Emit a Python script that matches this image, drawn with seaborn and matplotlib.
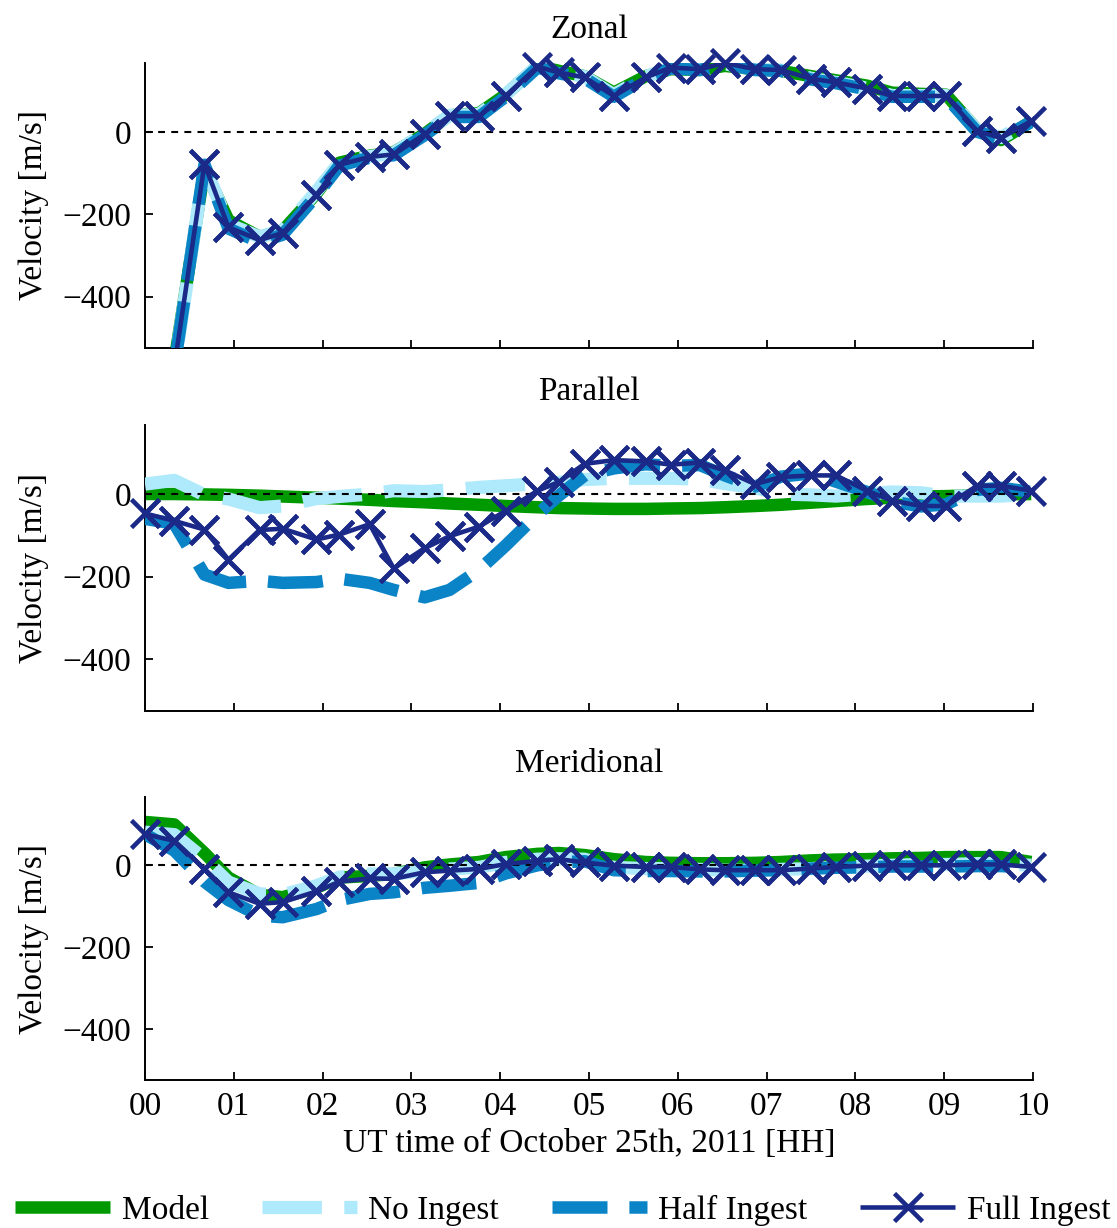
import numpy as np
import pandas as pd
import matplotlib
matplotlib.use("Agg")
import matplotlib.pyplot as plt
import seaborn as sns

# ---------------- data ----------------
hours = [0.00, 0.33, 0.67, 0.94, 1.29, 1.55, 1.93, 2.19, 2.53, 2.80, 3.15,
         3.43, 3.76, 4.06, 4.42, 4.66, 4.95, 5.28, 5.64, 5.92, 6.25, 6.53,
         6.87, 7.16, 7.50, 7.78, 8.13, 8.41, 8.74, 9.02, 9.37, 9.64, 9.98]

zonal_model = [-1100, -560, -90, -215, -255, -240, -150, -75, -58, -50, -5,
               40, 45, 90, 160, 148, 135, 95, 135, 152, 150, 160,
               152, 148, 135, 125, 112, 95, 92, 90, 5, -20, 25]
zonal_none = [-1100, -575, -82, -225, -255, -240, -145, -75, -60, -52, -3,
              40, 42, 90, 160, 146, 134, 90, 134, 155, 152, 165,
              152, 150, 130, 120, 106, 88, 88, 88, 4, -14, 27]
zonal_half = [-1100, -572, -80, -235, -268, -250, -155, -82, -63, -57, -8,
              36, 36, 85, 156, 142, 130, 85, 130, 154, 150, 165,
              150, 148, 127, 118, 103, 85, 85, 85, 0, -17, 24]
zonal_full = [-1100, -570, -78, -232, -263, -246, -153, -80, -61, -55, -6,
              38, 38, 87, 158, 144, 132, 87, 132, 156, 152, 167,
              152, 150, 129, 120, 105, 87, 87, 87, 2, -15, 26]

parallel_model = [0, 0, -1, -2, -4, -6, -9, -11, -14, -17, -20,
                  -23, -26, -29, -32, -34, -35, -36, -36, -35, -34, -32,
                  -29, -26, -21, -17, -12, -9, -6, -5, -3, -1, 0]
parallel_none = [24, 33, -2, -12, -33, -29, -11, -6, 0, 8, 6,
                 10, 16, 20, 25, 28, 35, 38, 38, 38, 36, 25,
                 15, 0, -2, -5, 0, 5, 3, -5, -5, -5, 0]
parallel_half = [-60, -72, -195, -215, -210, -215, -213, -205, -215, -232, -250,
                 -232, -184, -125, -49, -4, 45, 62, 72, 68, 70, 45,
                 18, 42, 50, 30, 5, -18, -30, -25, 10, 15, 5]
parallel_full = [-47, -65, -86, -159, -87, -84, -110, -98, -73, -180, -131,
                 -102, -79, -41, 8, 29, 73, 82, 79, 71, 76, 57,
                 24, 41, 45, 45, 8, -16, -29, -29, 20, 20, 8]

meridional_model = [106, 100, 30, -30, -72, -78, -55, -30, -26, -21, -5,
                    2, 8, 20, 28, 30, 25, 15, 8, 6, 5, 5,
                    6, 8, 12, 14, 15, 17, 18, 20, 20, 20, 8]
meridional_none = [81, 75, 15, -41, -70, -72, -50, -29, -21, -21, -13,
                   -9, -5, 7, 15, 16, 15, -5, -8, -8, -10, -12,
                   -12, -10, -8, -5, -2, 0, 2, 2, 4, 4, 0]
meridional_half = [76, 36, -40, -85, -123, -127, -107, -85, -70, -66, -55,
                   -50, -43, -20, 0, 7, 10, -12, -14, -14, -15, -15,
                   -13, -12, -8, -6, -5, -3, -3, -3, -2, -2, -5]
meridional_full = [76, 60, -9, -66, -94, -90, -64, -40, -32, -33, -17,
                   -13, -9, 3, 11, 15, 7, -1, -4, -4, -10, -12,
                   -12, -12, -8, -4, -1, 0, 0, 0, 2, 2, -4]

series_names = ["Model", "No Ingest", "Half Ingest", "Full Ingest"]
panel_titles = ["Zonal", "Parallel", "Meridional"]
panel_data = [
    [zonal_model, zonal_none, zonal_half, zonal_full],
    [parallel_model, parallel_none, parallel_half, parallel_full],
    [meridional_model, meridional_none, meridional_half, meridional_full],
]
x_ticks = [0, 1, 2, 3, 4, 5, 6, 7, 8, 9, 10]
x_tick_labels = ["00", "01", "02", "03", "04", "05", "06", "07", "08", "09", "10"]
y_ticks = [-400, -200, 0]
y_label = "Velocity [m/s]"
x_label = "UT time of October 25th, 2011 [HH]"

# ---------------- styling ----------------
sns.set_theme(style="ticks")
plt.rcParams["font.family"] = ["Liberation Serif", "DejaVu Serif"]
plt.rcParams["axes.unicode_minus"] = True
for key in ("text.color", "axes.labelcolor", "xtick.color", "ytick.color",
            "xtick.labelcolor", "ytick.labelcolor"):
    plt.rcParams[key] = "black"
plt.rcParams["lines.solid_capstyle"] = "butt"
plt.rcParams["lines.dash_capstyle"] = "butt"

FS = 24
FULL_COLOR = "#1b2a88"
styles = [
    dict(color="#009a00", linewidth=9.0, linestyle="-", zorder=2),
    dict(color="#aeeafb", linewidth=9.5, linestyle=(0, (4.5, 1.7)), zorder=3),
    dict(color="#0a84c6", linewidth=9.0, linestyle=(0, (4.4, 1.75)), zorder=4),
    dict(color=FULL_COLOR, linewidth=3.3, linestyle="-", marker="x",
         markersize=20, markeredgewidth=3.3, markeredgecolor=FULL_COLOR, zorder=6),
]

fig = plt.figure(figsize=(11.17, 12.28), dpi=100)
W, H = 1117.0, 1228.0
left_px, right_px = 145, 1033
panel_px = [(63, 348), (425, 711), (797, 1080)]
ylim = (-525, 167)

axes = []
for i, (top_px, bot_px) in enumerate(panel_px):
    ax = fig.add_axes([left_px / W, 1 - bot_px / H,
                       (right_px - left_px) / W, (bot_px - top_px) / H])
    axes.append(ax)
    for k, (name, vals) in enumerate(zip(series_names, panel_data[i])):
        st = dict(styles[k])
        sns.lineplot(x=hours, y=vals, ax=ax, sort=False, estimator=None,
                     label=name, legend=False, **st)
        if k == 2:
            ax.axhline(0, color="black", linewidth=1.5,
                       linestyle=(0, (3.3, 3.0)), zorder=5)
    # unclipped markers for the full-ingest series (as in the reference)
    fv = np.array(panel_data[i][3], dtype=float)
    hv = np.array(hours)
    m = (fv >= ylim[0]) & (fv <= ylim[1])
    ax.plot(hv[m], fv[m], linestyle="none", marker="x", markersize=20,
            markeredgewidth=3.3, color=FULL_COLOR, clip_on=False, zorder=7)

    if ax.get_legend() is not None:
        ax.get_legend().remove()
    ax.set_xlim(0, 10)
    ax.set_ylim(*ylim)
    ax.set_xticks(x_ticks)
    ax.set_yticks(y_ticks)
    if i == 2:
        ax.set_xticklabels(x_tick_labels)
        ax.set_xlabel(x_label, fontsize=FS, labelpad=5)
    else:
        ax.set_xticklabels([])
        ax.set_xlabel("")
    ax.set_ylabel(y_label, fontsize=FS)
    ax.yaxis.set_label_coords(-0.108, 0.5)
    ax.set_title(panel_titles[i], fontsize=FS, pad=18)
    ax.tick_params(axis="both", direction="in", length=6, width=1.3,
                   labelsize=FS, color="black", labelcolor="black")
    ax.tick_params(axis="y", pad=10)
    ax.tick_params(axis="x", pad=8)
    sns.despine(ax=ax, top=True, right=True)
    for side in ("left", "bottom"):
        ax.spines[side].set_linewidth(1.4)
        ax.spines[side].set_color("black")
    ax.set_facecolor("white")

handles, labels = axes[2].get_legend_handles_labels()
handles, labels = handles[:4], labels[:4]
fig.legend(handles, labels, loc="center", bbox_to_anchor=(563 / W, 1 - 1210 / H),
           ncol=4, frameon=False, fontsize=FS, handlelength=2.85,
           handletextpad=0.35, columnspacing=1.58, numpoints=1,
           borderaxespad=0, borderpad=0)

fig.savefig("out.png", dpi=100, facecolor="white")
